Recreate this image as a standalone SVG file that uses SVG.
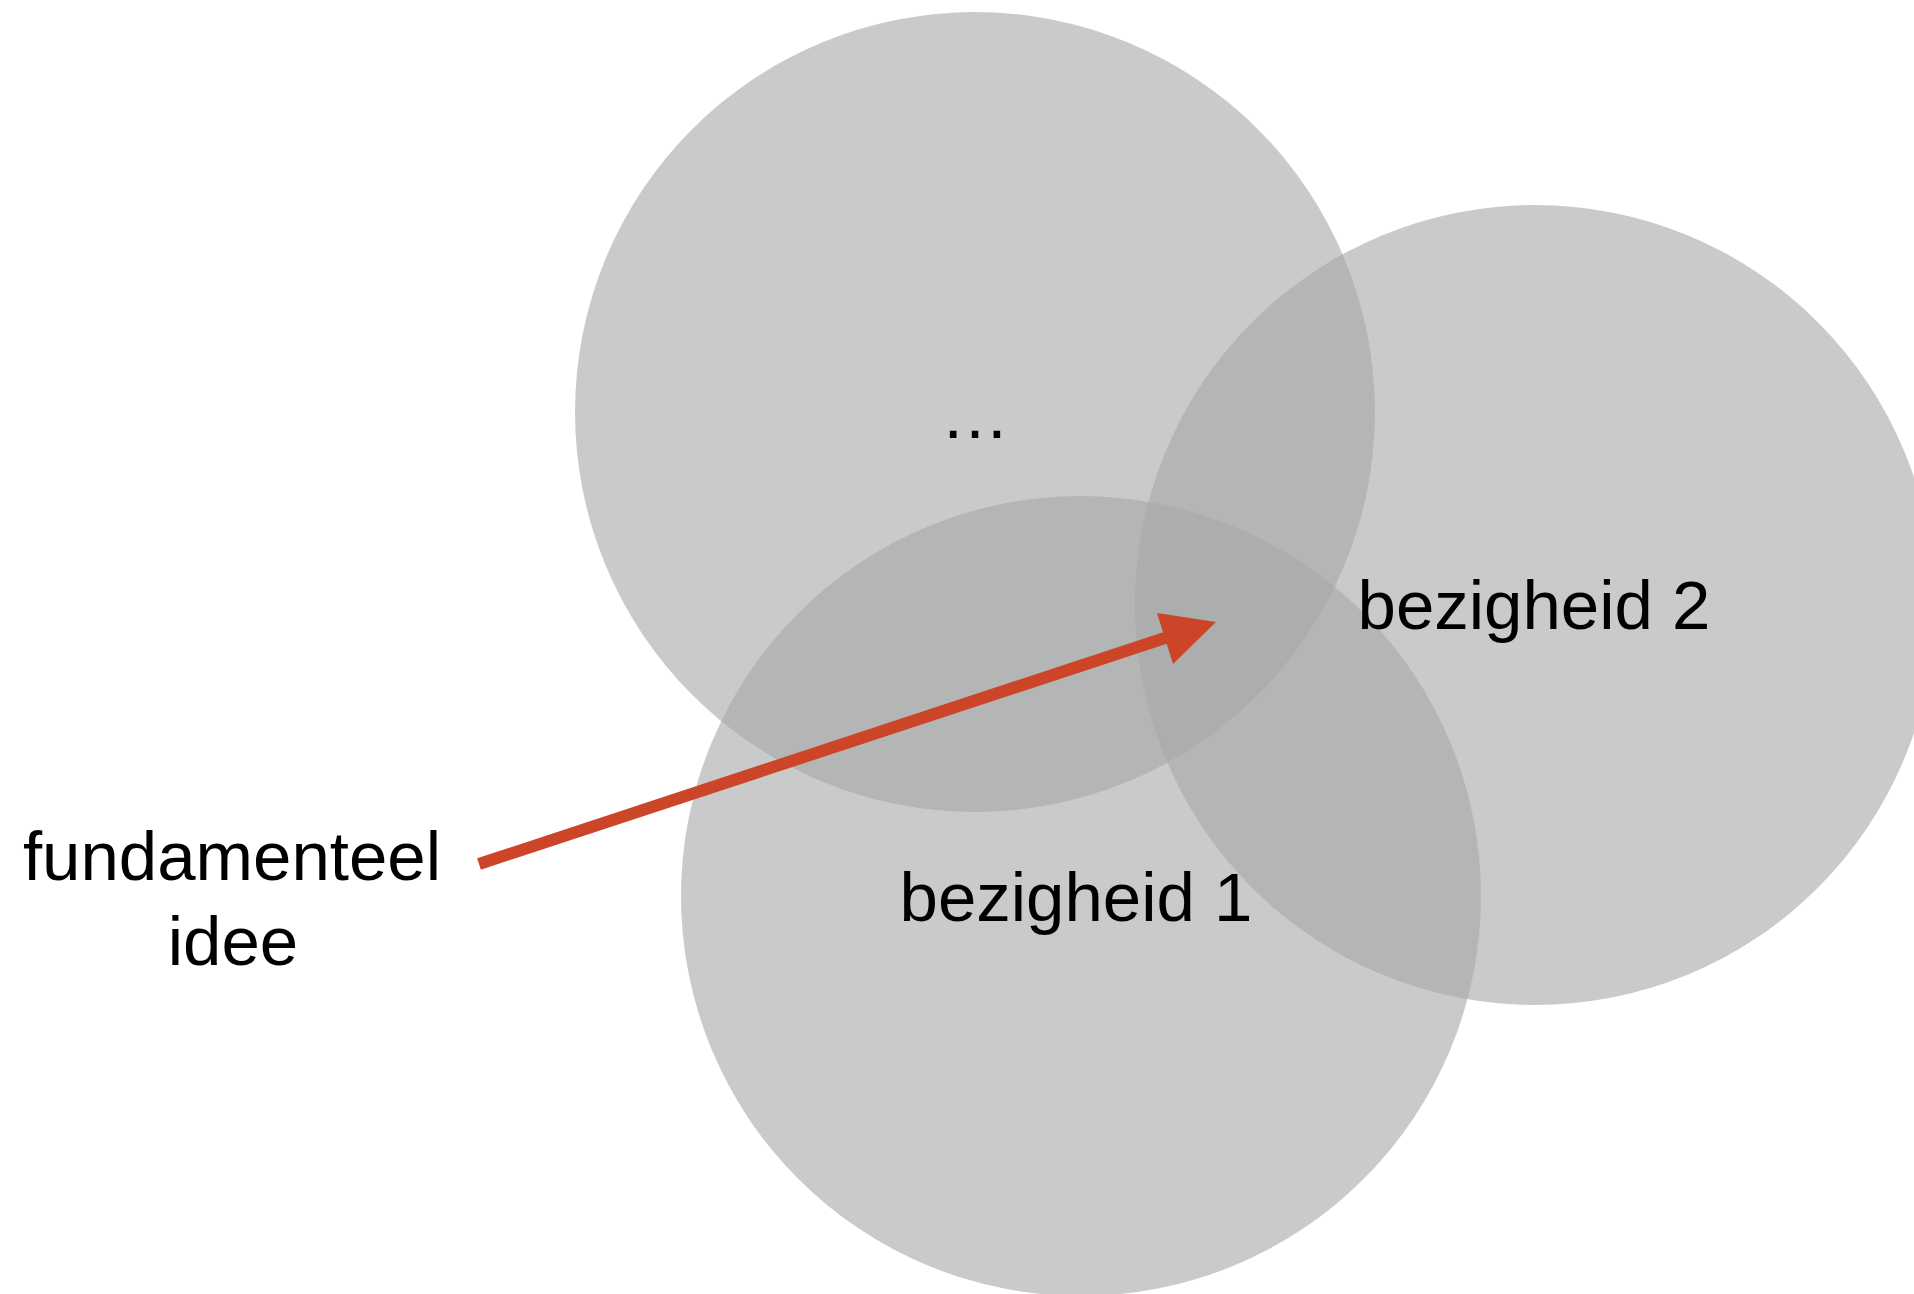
<svg xmlns="http://www.w3.org/2000/svg" width="1914" height="1294" viewBox="0 0 1914 1294">
  <style>
    .area { fill: #a5a9a7; fill-opacity: 0.6; }
    .label { font-family: "Liberation Sans", Arial, Helvetica, sans-serif; font-size: 69px; fill: #000; text-anchor: middle; }
    .arrow-line { stroke: #cd4528; stroke-width: 12; fill: none; }
    .arrow-head { fill: #cd4528; }
  </style>
  <rect width="1914" height="1294" fill="#ffffff"/>

  <g id="node-more">
    <circle class="area" cx="975" cy="412" r="400"/>
    <text class="label" x="975" y="438">…</text>
  </g>

  <g id="node-bezigheid-1">
    <circle class="area" cx="1081" cy="896" r="400"/>
    <text class="label" x="1076" y="921">bezigheid 1</text>
  </g>

  <g id="node-bezigheid-2">
    <circle class="area" cx="1535" cy="605" r="400"/>
    <text class="label" x="1534" y="629">bezigheid 2</text>
  </g>

  <g id="node-fundamenteel-idee">
    <text class="label" x="232" y="880">fundamenteel</text>
    <text class="label" x="233" y="965">idee</text>
  </g>

  <g id="connectors">
    <line class="arrow-line" x1="479" y1="864" x2="1168" y2="637"/>
    <polygon class="arrow-head" points="1216,622 1173,664 1157,613"/>
  </g>
</svg>
